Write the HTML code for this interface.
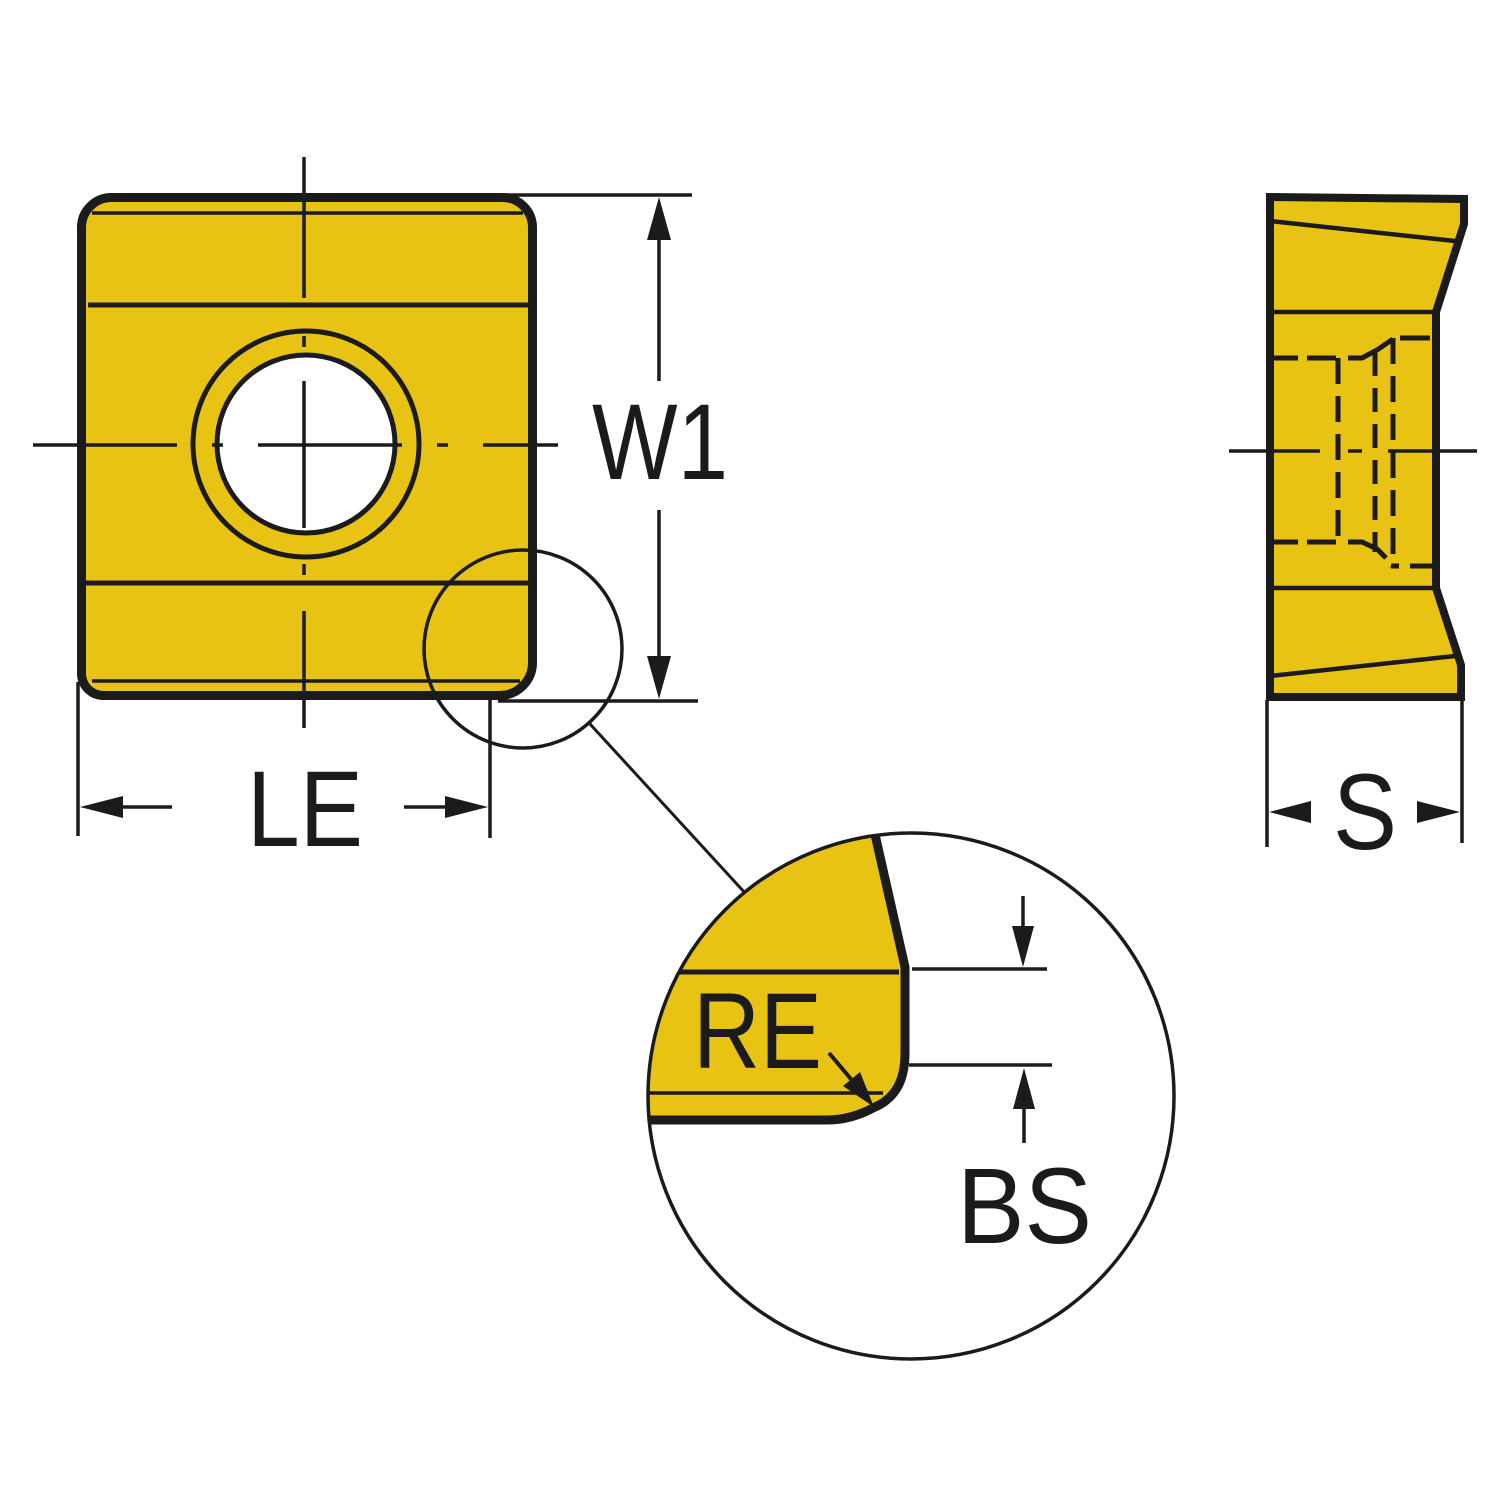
<!DOCTYPE html>
<html>
<head>
<meta charset="utf-8">
<style>
  html,body{margin:0;padding:0;background:#fff;}
  svg{display:block;}
  text{font-family:"Liberation Sans", Arial, sans-serif; fill:#1b1b1b;}
</style>
</head>
<body>
<svg width="1500" height="1500" viewBox="0 0 1500 1500" xmlns="http://www.w3.org/2000/svg">
  <defs>
    <clipPath id="bigc"><circle cx="911" cy="1096" r="263"/></clipPath>
  </defs>
  <rect width="1500" height="1500" fill="#fff"/>

  <!-- ================= MAIN INSERT ================= -->
  <path d="M111.5,197.5 H502.5 A30,30 0 0 1 532.5,227.5 V662.5 A33,33 0 0 1 499.5,695.5 H103.5 A22,22 0 0 1 81.5,673.5 V227.5 A30,30 0 0 1 111.5,197.5 Z"
        fill="#E9C313" stroke="#1b1b1b" stroke-width="9"/>
  <g stroke="#1b1b1b" fill="none">
    <line x1="92" y1="213" x2="523" y2="213" stroke-width="3.5"/>
    <line x1="88" y1="305" x2="528" y2="305" stroke-width="5"/>
    <line x1="85" y1="583" x2="528" y2="583" stroke-width="5"/>
    <line x1="92" y1="681" x2="520" y2="681" stroke-width="3.5"/>
  </g>
  <!-- hole -->
  <circle cx="306" cy="444" r="113" fill="#E9C313" stroke="#1b1b1b" stroke-width="5"/>
  <circle cx="306" cy="444" r="89" fill="#fff" stroke="#1b1b1b" stroke-width="5"/>

  <!-- center lines main -->
  <g stroke="#1b1b1b" stroke-width="3.5">
    <line x1="304" y1="157" x2="304" y2="298"/>
    <line x1="304" y1="336" x2="304" y2="347"/>
    <line x1="304" y1="381" x2="304" y2="528"/>
    <line x1="304" y1="564" x2="304" y2="575"/>
    <line x1="304" y1="611" x2="304" y2="728"/>

    <line x1="33" y1="445" x2="177" y2="445"/>
    <line x1="212" y1="445" x2="223" y2="445"/>
    <line x1="258" y1="445" x2="402" y2="445"/>
    <line x1="437" y1="445" x2="448" y2="445"/>
    <line x1="483" y1="445" x2="558" y2="445"/>
  </g>

  <!-- W1 dimension -->
  <g stroke="#1b1b1b" stroke-width="3.5">
    <line x1="503" y1="195" x2="692" y2="195"/>
    <line x1="498" y1="701" x2="698" y2="701"/>
    <line x1="659" y1="237" x2="659" y2="381"/>
    <line x1="659" y1="510" x2="659" y2="659"/>
  </g>
  <polygon points="659,197 647,240 671,240" fill="#1b1b1b"/>
  <polygon points="659,699 647,656 671,656" fill="#1b1b1b"/>
  <text x="592" y="479" font-size="108" textLength="136" lengthAdjust="spacingAndGlyphs">W1</text>

  <!-- LE dimension -->
  <g stroke="#1b1b1b" stroke-width="3.5">
    <line x1="78" y1="682" x2="78" y2="836"/>
    <line x1="490" y1="700" x2="490" y2="838"/>
    <line x1="120" y1="807" x2="172" y2="807"/>
    <line x1="404" y1="807" x2="450" y2="807"/>
  </g>
  <polygon points="80,807 123,796 123,818" fill="#1b1b1b"/>
  <polygon points="488,807 445,796 445,818" fill="#1b1b1b"/>
  <text x="247" y="846" font-size="108" textLength="116" lengthAdjust="spacingAndGlyphs">LE</text>

  <!-- small detail circle + leader -->
  <circle cx="523" cy="649" r="99" fill="none" stroke="#1b1b1b" stroke-width="3.5"/>
  <line x1="590" y1="724" x2="746" y2="894" stroke="#1b1b1b" stroke-width="3"/>

  <!-- ================= DETAIL ================= -->
  <g clip-path="url(#bigc)">
    <path d="M875,820 L905,967 L905,1053 C905,1085 892,1100 873,1108 C860,1115 845,1120 827,1120 L630,1120 L630,820 Z"
          fill="#E9C313"/>
    <line x1="640" y1="972" x2="899" y2="972" stroke="#1b1b1b" stroke-width="5"/>
    <line x1="640" y1="1093" x2="883" y2="1093" stroke="#1b1b1b" stroke-width="3.5"/>
    <path d="M874,830 L905,967 L905,1053 C905,1085 892,1100 873,1108 C860,1115 845,1120 827,1120 L630,1120"
          fill="none" stroke="#1b1b1b" stroke-width="9" stroke-linejoin="round"/>
  </g>
  <circle cx="911" cy="1096" r="263" fill="none" stroke="#1b1b1b" stroke-width="3.5"/>

  <text x="693" y="1068" font-size="108" textLength="129" lengthAdjust="spacingAndGlyphs">RE</text>
  <!-- RE arrow -->
  <line x1="829" y1="1053" x2="856" y2="1085" stroke="#1b1b1b" stroke-width="4"/>
  <polygon points="874,1107 843,1086 860,1072" fill="#1b1b1b"/>

  <!-- BS dimension -->
  <g stroke="#1b1b1b" stroke-width="3.5">
    <line x1="912" y1="969" x2="1047" y2="969"/>
    <line x1="909" y1="1065" x2="1052" y2="1065"/>
    <line x1="1023" y1="896" x2="1023" y2="930"/>
    <line x1="1024" y1="1105" x2="1024" y2="1143"/>
  </g>
  <polygon points="1023,967 1012,926 1034,926" fill="#1b1b1b"/>
  <polygon points="1024,1068 1013,1109 1035,1109" fill="#1b1b1b"/>
  <text x="957" y="1243" font-size="108" textLength="135" lengthAdjust="spacingAndGlyphs">BS</text>

  <!-- ================= SIDE VIEW ================= -->
  <path d="M1270,197 L1464,199 L1464,224 L1436,312 L1436,588 L1461,665 L1461,697 L1270,697 Z"
        fill="#E9C313" stroke="#1b1b1b" stroke-width="8" stroke-linejoin="miter"/>
  <g stroke="#1b1b1b" stroke-width="4.5">
    <line x1="1270" y1="221" x2="1455" y2="241"/>
    <line x1="1270" y1="312" x2="1436" y2="312"/>
    <line x1="1270" y1="588" x2="1436" y2="588"/>
    <line x1="1270" y1="676" x2="1455" y2="656"/>
  </g>
  <!-- hidden (dashed) lines -->
  <g stroke="#1b1b1b" stroke-width="5" fill="none">
    <line x1="1274" y1="358" x2="1298" y2="358"/>
    <line x1="1307" y1="358" x2="1336" y2="358"/>
    <line x1="1348" y1="358" x2="1363" y2="358"/>
    <polyline points="1362,358 1377,350 1393,339"/>
    <line x1="1274" y1="542" x2="1298" y2="542"/>
    <line x1="1307" y1="542" x2="1336" y2="542"/>
    <line x1="1348" y1="542" x2="1363" y2="542"/>
    <polyline points="1362,542 1377,549 1386,558"/>

    <line x1="1338" y1="358" x2="1338" y2="542" stroke-dasharray="26 12"/>
    <line x1="1375" y1="352" x2="1375" y2="552" stroke-dasharray="24 12"/>
    <line x1="1393" y1="338" x2="1393" y2="568" stroke-dasharray="26 12"/>
    <line x1="1400" y1="338" x2="1430" y2="338"/>
    <line x1="1391" y1="566" x2="1399" y2="566"/>
    <line x1="1410" y1="566" x2="1432" y2="566"/>
  </g>
  <!-- side center line -->
  <g stroke="#1b1b1b" stroke-width="3.5">
    <line x1="1229" y1="451" x2="1320" y2="451"/>
    <line x1="1348" y1="451" x2="1362" y2="451"/>
    <line x1="1388" y1="451" x2="1477" y2="451"/>
  </g>

  <!-- S dimension -->
  <g stroke="#1b1b1b" stroke-width="3.5">
    <line x1="1267" y1="700" x2="1267" y2="847"/>
    <line x1="1462" y1="700" x2="1462" y2="843"/>
  </g>
  <polygon points="1269,812 1311,801 1311,823" fill="#1b1b1b"/>
  <polygon points="1460,812 1417,801 1417,823" fill="#1b1b1b"/>
  <text x="1333" y="849" font-size="108" textLength="64" lengthAdjust="spacingAndGlyphs">S</text>
</svg>
</body>
</html>
